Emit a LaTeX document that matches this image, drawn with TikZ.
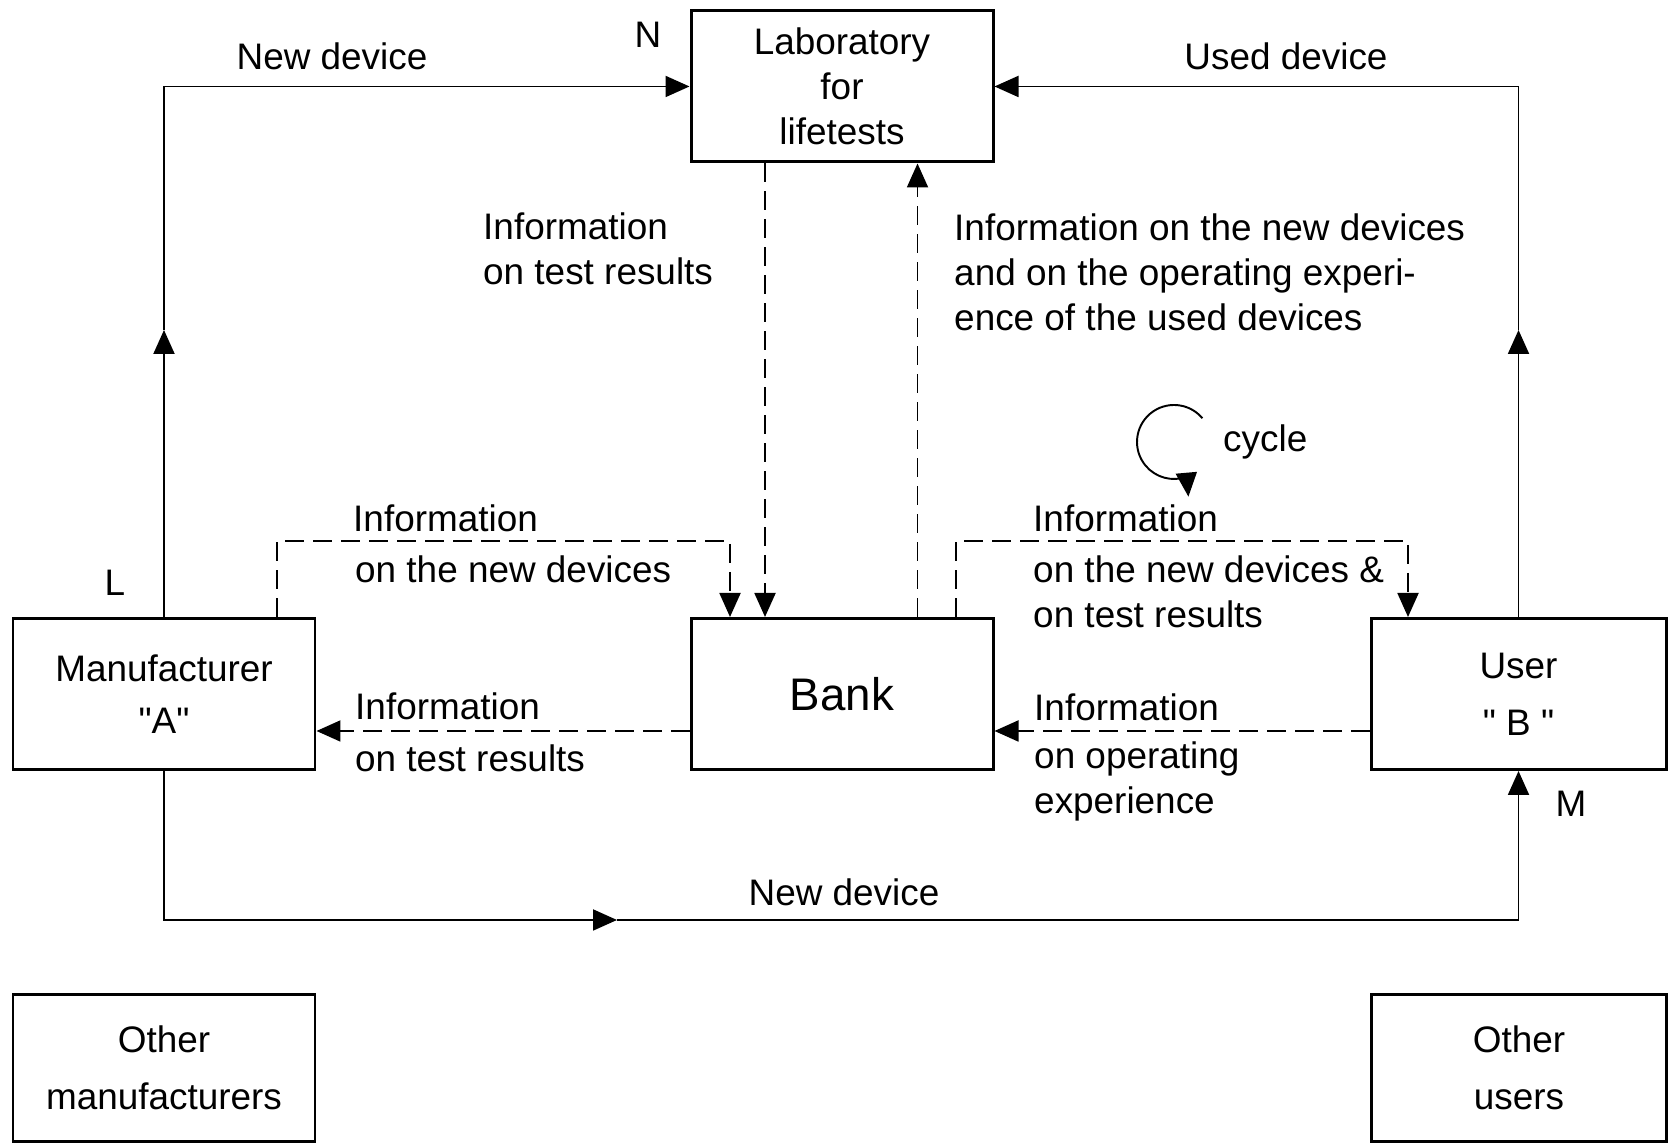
\documentclass[tikz,border=0pt]{standalone}
\usepackage{fontspec}
\setmainfont{Liberation Sans}
\usetikzlibrary{arrows.meta}

\tikzset{
  box/.style={draw,line width=0.85pt,minimum width=3.02cm,minimum height=1.51cm,align=center,inner sep=0pt},
  flow/.style={line width=0.55pt},
  info/.style={line width=0.55pt,dash pattern=on 1.9mm off 0.9mm},
  lbl/.style={inner sep=1pt},
}

\begin{document}
\begin{tikzpicture}[>={Triangle[length=2.4mm,width=2.1mm]},font=\fontsize{10.5}{12.8}\selectfont]
  \useasboundingbox (0,0) rectangle (16.69,11.47);
  %% Boxes
  \node[box] (lab) at (8.42,10.605) {Laboratory\\for\\lifetests};
  \node[box] (mfr) at (1.64,4.53) {Manufacturer\\[2pt]\textquotedbl A\textquotedbl};
  \node[box,font=\fontsize{13}{15}\selectfont] (bank) at (8.42,4.53) {Bank};
  \node[box,minimum width=2.95cm] (user) at (15.185,4.53) {User\\[3.5pt]\textquotedbl{} B \textquotedbl};
  \node[box,minimum height=1.47cm] (omfr) at (1.64,0.79) {Other\\[3.5pt]manufacturers};
  \node[box,minimum width=2.95cm,minimum height=1.47cm] (ousr) at (15.19,0.79) {Other\\[3.5pt]users};
  %% Devices
  \coordinate (lmid) at (1.64,8.17);
  \coordinate (rmid) at (15.185,8.17);
  \coordinate (bmid) at (6.17,2.27);
  \draw[flow,->] (mfr.north) -- (lmid);
  \draw[flow,->] (lmid) |- (lab.west);
  \draw[flow,->] (user.north) -- (rmid);
  \draw[flow,->] (rmid) |- (lab.east);
  \draw[flow,->] (mfr.south) |- (bmid);
  \draw[flow,->] (bmid) -| (user.south);
  %% Information
  \draw[info,->] ([xshift=-7.7mm]lab.south) -- ([xshift=-7.7mm]bank.north);
  \draw[info,->] ([xshift=7.55mm]bank.north) -- ([xshift=7.55mm]lab.south);
  \draw[info,->] ([xshift=11.3mm]mfr.north) -- ++(0,0.76) -| ([xshift=-11.2mm]bank.north);
  \draw[info,->] ([xshift=11.4mm]bank.north) -- ++(0,0.76) -| ([xshift=-11.05mm]user.north);
  \draw[info,->] ([yshift=-3.7mm]bank.west) -- ([yshift=-3.7mm]bank.west -| mfr.east);
  \draw[info,->] ([yshift=-3.7mm]user.west) -- ([yshift=-3.7mm]user.west -| bank.east);
  %% Labels
  \node[lbl] (ndev) at (3.32,10.91) {New device};
  \node[lbl] (udev) at (12.86,10.91) {Used device};
  \node[lbl] (n) at (6.48,11.12) {N};
  \node[lbl] (l) at (1.15,5.64) {L};
  \node[lbl] (m) at (15.71,3.43) {M};
  \node[lbl] (bdev) at (8.44,2.55) {New device};
  \node[lbl,anchor=west,align=left] (labinfo) at (4.79,8.98) {Information\\on test results};
  \node[lbl,anchor=west,align=left] (bankinfo) at (9.50,8.75) {Information on the new devices\\and on the operating experi-\\ence of the used devices};
  \node[lbl,anchor=west] (i1) at (3.49,6.29) {Information};
  \node[lbl,anchor=west] (i1b) at (3.51,5.78) {on the new devices};
  \node[lbl,anchor=west] (i2) at (3.51,4.41) {Information};
  \node[lbl,anchor=west] (i2b) at (3.51,3.89) {on test results};
  \node[lbl,anchor=west] (i3) at (10.29,6.29) {Information};
  \node[lbl,anchor=west,align=left] (i3b) at (10.29,5.555) {on the new devices \&\\on test results};
  \node[lbl,anchor=west] (i4) at (10.30,4.40) {Information};
  \node[lbl,anchor=west,align=left] (i4b) at (10.30,3.66) {on operating\\experience};
  %% Cycle
  \node[lbl,anchor=west] (cyc) at (12.19,7.05) {cycle};
  \coordinate (cyccentre) at (11.74,7.05);
  \draw[flow] (cyccentre) ++(40:0.37) arc[start angle=40,end angle=290,radius=0.37] coordinate (cycend);
  \draw[flow,->] (cycend) -- ++(-85:0.2);
\end{tikzpicture}
\end{document}
